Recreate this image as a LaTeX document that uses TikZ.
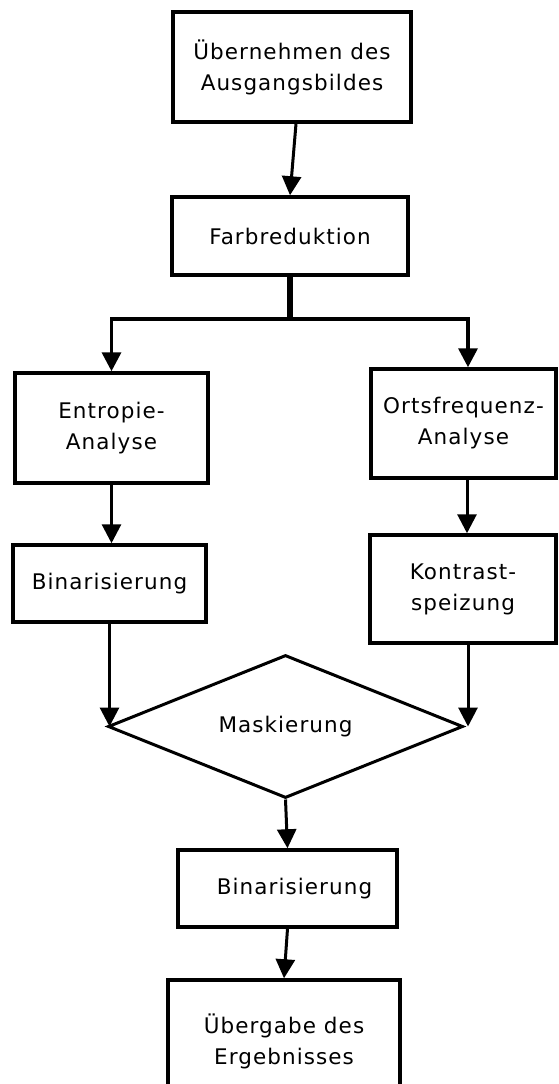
\documentclass[tikz,border=0pt]{standalone}
\usepackage{fontspec}
\setmainfont[LetterSpace=5]{DejaVu Sans}
\usetikzlibrary{positioning, arrows.meta, shapes.geometric}
\tikzset{
    kasten/.style={rectangle, draw=black, line width=3.5pt, fill=white, align=center, inner sep=0pt, font=\fontsize{21.5}{31}\selectfont},
    raute/.style={diamond, aspect=2.48, draw=black, line width=3pt, fill=white, align=center, inner sep=0pt, minimum width=355pt, minimum height=143pt, font=\fontsize{21.5}{31}\selectfont},
    pfeil/.style={-{Triangle[width=19pt, length=19pt]}, line width=3pt, color=black},
    stamm/.style={line width=6pt, color=black},
}

\begin{document}
\begin{tikzpicture}[x=1pt, y=-1pt]
    \useasboundingbox (0,0) rectangle (558,1084);

    % Eingang
    \node[kasten, minimum width=238pt, minimum height=110pt] (uebernahme) at (292, 67) {Übernehmen des\\Ausgangsbildes};
    \node[kasten, minimum width=236pt, minimum height=78pt] (farbred) at (290, 236) {Farbreduktion};

    % Linker Zweig
    \node[kasten, minimum width=193pt, minimum height=110pt] (entropie) at (111.5, 428) {Entropie-\\Analyse};
    \node[kasten, minimum width=193pt, minimum height=77pt] (binlinks) at (109.5, 583.5) {Binarisierung};

    % Rechter Zweig
    \node[kasten, minimum width=185pt, minimum height=109pt] (ortsfreq) at (463.5, 423.5) {Ortsfrequenz-\\Analyse};
    \node[kasten, minimum width=186pt, minimum height=108pt] (kontrast) at (463, 589) {Kontrast-\\speizung};

    % Zusammenfuehrung
    \node[raute] (maske) at (285.5, 726.5) {Maskierung};
    \node[kasten, minimum width=219pt, minimum height=77pt] (binmitte) at (287.5, 888.5) {\hspace*{14pt}Binarisierung};
    \node[kasten, minimum width=232pt, minimum height=130pt, text depth=0pt] (uebergabe) at (284, 1045) {\raisebox{30pt}{\begin{tabular}{@{}c@{}}Übergabe des\\Ergebnisses\end{tabular}}};

    % Verbindungen
    \coordinate (gabel) at (290, 319);
    \draw[pfeil] ([xshift=4pt]uebernahme.south) -- (farbred.north);
    \draw[stamm] (farbred.south) -- (gabel);
    \draw[pfeil, line width=3.5pt] (gabel) -| (entropie.north);
    \draw[pfeil, line width=3.5pt] (gabel) -| ([xshift=4.5pt]ortsfreq.north);
    \draw[pfeil] (entropie.south) -- (entropie.south |- binlinks.north);
    \draw[pfeil] ([xshift=3.5pt]ortsfreq.south) -- ([xshift=4pt]kontrast.north);
    \draw[pfeil] (binlinks.south) -- (binlinks.south |- maske.west);
    \draw[pfeil] ([xshift=5pt]kontrast.south) -- ([xshift=5pt]kontrast.south |- maske.east);
    \draw[pfeil] (maske.south) -- (binmitte.north);
    \draw[pfeil] (binmitte.south) -- (uebergabe.north);
\end{tikzpicture}
\end{document}
